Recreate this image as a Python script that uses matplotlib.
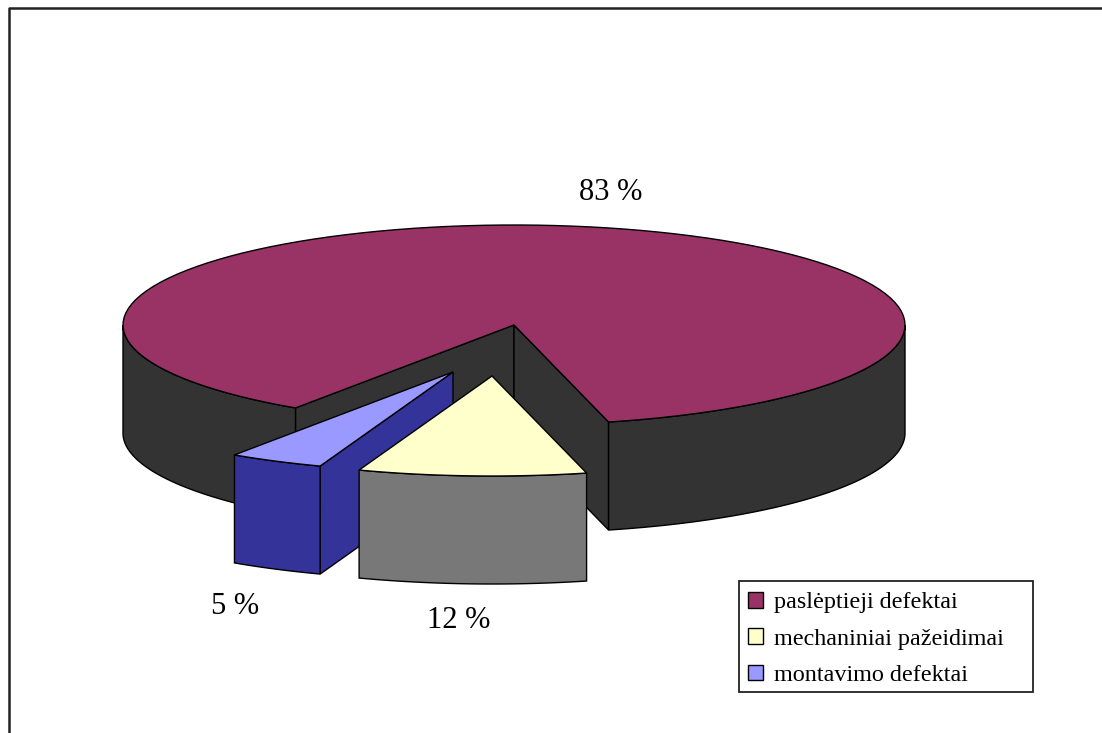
import numpy as np
import matplotlib
matplotlib.use('Agg')
import matplotlib.pyplot as plt
from matplotlib.patches import Patch, Rectangle

labels = ['paslėptieji defektai', 'mechaniniai pažeidimai', 'montavimo defektai']
shares = [83, 12, 5]
value_labels = ['83 %', '12 %', '5 %']

top_colors = ['#993366', '#FFFFCC', '#9999FF']
side_colors = ['#333333', '#787878', '#333399']

# sizes of the drawing, in pixels of the picture
rx, ry, depth = 391, 100, 108
center = (514, 325)
yellow_center = (492, 376)
blue_center = (453, 372)
start = 14          # where the big slice starts, degrees right of the front
front_scale = 0.784  # the pie looks squeezed at the front


def rim(c, a0, a1):
    a = np.radians(np.linspace(a0, a1, 120))
    return c[0] + rx * np.sin(a), c[1] + ry * np.cos(a)


def wall(ax, xs, ys, color):
    xs = np.asarray(xs)
    ys = np.asarray(ys)
    ax.fill(np.r_[xs, xs[::-1]], np.r_[ys, ys[::-1] + depth], fc=color, ec='black', lw=1)


def top(ax, c, a0, a1, color):
    x, y = rim(c, a0, a1)
    ax.fill(np.r_[c[0], x], np.r_[c[1], y], fc=color, ec='black', lw=1)


fig = plt.figure(figsize=(11.02, 7.33), dpi=100)
ax = fig.add_axes([0, 0, 1, 1])
ax.set_xlim(0, 1102)
ax.set_ylim(733, 0)
ax.axis('off')

# frame of the picture
ax.plot([9, 9, 1102], [733, 8, 8], color='#222222', lw=1.8)

yellow_end = start - shares[1] * 3.6 * front_scale
blue_end = yellow_end - shares[2] * 3.6 * front_scale
big_end = blue_end + 360

# big slice
p0 = rim(center, start, start)
p1 = rim(center, big_end, big_end)
wall(ax, [center[0], p1[0][0]], [center[1], p1[1][0]], side_colors[0])
wall(ax, [center[0], p0[0][0]], [center[1], p0[1][0]], side_colors[0])
wall(ax, *rim(center, start, 90), side_colors[0])
wall(ax, *rim(center, 270, big_end), side_colors[0])
top(ax, center, start, big_end, top_colors[0])

# small blue slice
p = rim(blue_center, yellow_end, yellow_end)
wall(ax, [blue_center[0], p[0][0]], [blue_center[1], p[1][0]], side_colors[2])
wall(ax, *rim(blue_center, blue_end, yellow_end), side_colors[2])
top(ax, blue_center, yellow_end, blue_end, top_colors[2])

# yellow slice
wall(ax, *rim(yellow_center, yellow_end, start), side_colors[1])
top(ax, yellow_center, start, yellow_end, top_colors[1])

# value labels
for txt, pos in zip(value_labels, [(611, 192), (459, 620), (235, 606)]):
    ax.text(pos[0], pos[1], txt, family='Liberation Serif', fontsize=22,
            ha='center', va='center', color='black')

# legend box has a wider margin on the right, so it is drawn apart from the legend
ax.add_patch(Rectangle((739, 581), 294, 111, fc='white', ec='#222222', lw=1.3))
handles = [Patch(fc=c, ec='black', lw=1) for c in top_colors]
ax.legend(handles, labels, loc='upper left', bbox_to_anchor=(748, 592),
          bbox_transform=ax.transData, frameon=False, borderaxespad=0,
          prop={'family': 'Liberation Serif', 'size': 17.4},
          handlelength=0.62, handleheight=0.62, handletextpad=0.45,
          labelspacing=0.62, borderpad=0)

plt.savefig('out.png', dpi=100)
